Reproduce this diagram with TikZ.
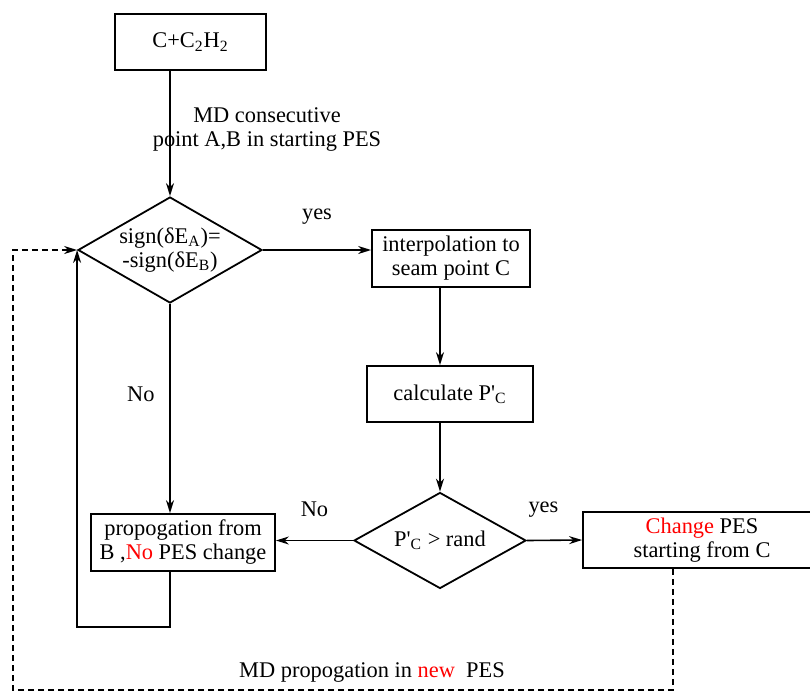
\documentclass[tikz,border=0pt]{standalone}
\usepackage{fontspec}
\setmainfont{Liberation Serif}
\usepackage{textcomp}
\usepackage{xcolor}
\usetikzlibrary{positioning,shapes.geometric,arrows.meta,calc}
\definecolor{hopred}{HTML}{FF0000}
\newcommand{\pprime}{P\textquotesingle\textsubscript{C}}

\begin{document}
\begin{tikzpicture}[
  x=0.5pt, y=-0.5pt,
  font=\fontsize{11.2}{12}\selectfont,
  box/.style={
    draw, line width=0.9pt,
    align=center, fill=white,
    inner sep=2pt
  },
  decision/.style={
    draw, diamond, line width=0.9pt,
    inner sep=0pt, fill=white
  },
  flow/.style={-{Stealth[length=6.5pt,width=4pt]}, line width=0.8pt},
  back/.style={flow, dash pattern=on 3pt off 2pt},
]
\useasboundingbox (0,0) rectangle (810,698);

% Boxes and decisions at fixed places.
\node[box, minimum width=75.5pt, minimum height=28pt] (start) at (190.5,42)
  {C+C\textsubscript{2}H\textsubscript{2}};
\node[decision, minimum width=92pt, minimum height=53pt,
  label={[align=center]center:sign(δE\textsubscript{A})=\\-sign(δE\textsubscript{B})}]
  (test) at (170,250) {};
\node[box, minimum width=79pt, minimum height=28.5pt] (interp) at (451,258.5)
  {interpolation to\\seam point C};
\node[box, minimum width=83pt, minimum height=28pt] (calc) at (450,394)
  {calculate \pprime};
\node[decision, minimum width=86pt, minimum height=48pt,
  label={center:\pprime{} > rand}]
  (accept) at (440,540.5) {};
\node[box, minimum width=92pt, minimum height=28.5pt] (nochange) at (183,542.5)
  {propogation from\\B ,\textcolor{hopred}{No} PES change};
\node[box, minimum width=119pt, minimum height=28pt] (change) at (702,540)
  {\textcolor{hopred}{Change} PES\\starting from C};

% Free labels.
\node[align=center] (mdlabel) at (267,129.5)
  {MD consecutive\\point A,B in starting PES};
\node (newlabel) at (372,672)
  {MD propogation in \textcolor{hopred}{new}\ \ PES};

\coordinate (loopcorner) at (0,627);
\coordinate (backcorner) at (13,690);

% Main flow.
\draw[flow] (start.south -| test.north) -- (test.north);
\draw[flow] (test.east) -- node[above=9pt, midway] {yes} (test.east -| interp.west);
\draw[flow] (interp.south -| accept.north) -- (calc.north -| accept.north);
\draw[flow] (calc.south -| accept.north) -- (accept.north);
\draw[flow] (test.south) -- node[left=4pt, pos=0.43] {No} (test.south |- nochange.north);
\draw[flow] (accept.west) -- node[above=8pt, midway] {No} (accept.west -| nochange.east);
\draw[flow] (accept.east) -- node[above=8pt, pos=0.3] {yes} (change.west);

% Loops back to the test.
\draw[flow] (nochange.south -| test.north) |- (loopcorner -| test.west) -- (test.west);
\draw[back] ([xshift=-14.5pt]change.south) |- (backcorner) |- (test.west);

\end{tikzpicture}
\end{document}
